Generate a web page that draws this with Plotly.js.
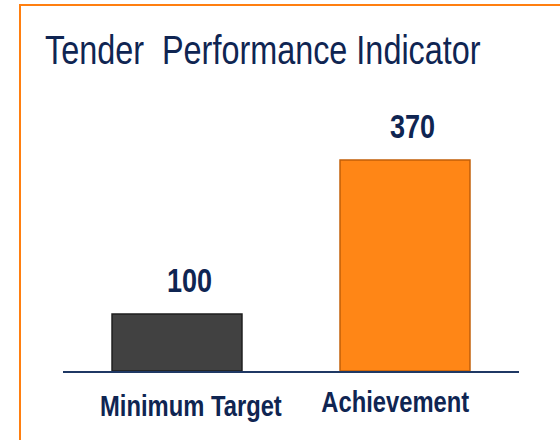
<!DOCTYPE html>
<html>
<head>
<meta charset="utf-8">
<script src="https://cdn.plot.ly/plotly-3.0.1.min.js"></script>
<style>
  html, body { margin: 0; padding: 0; background: #ffffff; overflow: hidden; }
  #chart { width: 560px; height: 440px; }
  /* narrow the Liberation Sans glyphs to mimic Arial Narrow */
  #chart .annotation-text {
    transform-box: fill-box; transform-origin: center; transform: scaleX(0.82);
  }
  #chart .gtitle {
    transform-box: fill-box; transform-origin: left center; transform: scaleX(0.79);
  }
</style>
</head>
<body>
<div id="chart"></div>
<script>
const categories = ["Minimum Target", "Achievement"];
const values = [100, 370];
const valueLabels = ["100", "370"];
const barColors = ["#414141", "#ff8616"];
const edgeColors = ["#1e1e1e", "#c25f08"];
const titleText = "Tender  Performance Indicator";

const navy = "#0f2552";
const font = "'Liberation Sans', Arial, sans-serif";

const trace = {
  type: "bar",
  x: categories,
  y: values,
  marker: { color: barColors, line: { color: edgeColors, width: 1.5 } },
  hoverinfo: "skip",
  showlegend: false
};

const labelShifts = [14, -10];
const labelYShifts = [-35, -31];
const numberShifts = [12, 7];

const annotations = [];
categories.forEach((c, i) => {
  annotations.push({
    x: c, xref: "x", y: 0, yref: "paper",
    text: "<b>" + c + "</b>", showarrow: false,
    xanchor: "center", yanchor: "middle",
    xshift: labelShifts[i], yshift: labelYShifts[i],
    font: { family: font, size: 29, color: navy }
  });
  annotations.push({
    x: c, xref: "x", y: values[i], yref: "y",
    text: "<b>" + valueLabels[i] + "</b>", showarrow: false,
    xanchor: "center", yanchor: "middle",
    xshift: numberShifts[i], yshift: 34,
    font: { family: font, size: 33, color: navy }
  });
});

const layout = {
  width: 560, height: 440,
  margin: { l: 63, r: 41, t: 143, b: 69, pad: 0 },
  paper_bgcolor: "#ffffff",
  plot_bgcolor: "#ffffff",
  bargap: 0.43,
  title: {
    text: titleText,
    xref: "container", yref: "container",
    x: 45 / 560, xanchor: "left",
    y: 1 - 50 / 440, yanchor: "middle",
    font: { family: font, size: 41, color: navy }
  },
  xaxis: {
    type: "category",
    range: [-0.5, 1.5],
    showticklabels: false,
    ticks: "",
    showgrid: false,
    zeroline: false,
    showline: true,
    linecolor: "#1f3864",
    linewidth: 2
  },
  yaxis: {
    range: [0, 400],
    visible: false,
    showgrid: false,
    zeroline: false
  },
  annotations: annotations,
  shapes: [{
    type: "rect", xref: "paper", yref: "paper",
    x0: (20 - 63) / 456, x1: (580 - 63) / 456,
    y0: (371 - 460) / 228, y1: (371 - 5) / 228,
    line: { color: "#ff7f10", width: 2 },
    fillcolor: "rgba(0,0,0,0)",
    layer: "above"
  }]
};

Plotly.newPlot("chart", [trace], layout, { staticPlot: true, displayModeBar: false });
</script>
</body>
</html>
